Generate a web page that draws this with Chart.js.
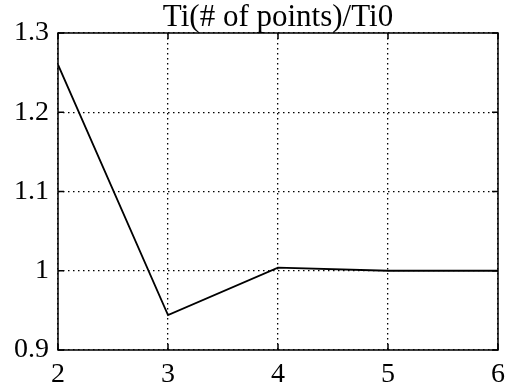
<!DOCTYPE html>
<html>
<head>
<meta charset="utf-8">
<script src="https://cdn.jsdelivr.net/npm/chart.js@4"></script>
<style>
  html, body { margin: 0; padding: 0; background: #fff; }
  #wrap { width: 513px; height: 391px; }
</style>
</head>
<body>
<div id="wrap"><canvas id="chart" width="513" height="391"></canvas></div>
<script>
// number of points vs Ti ratio
const points = [2, 3, 4, 5, 6];
const tiRatio = [1.26, 0.944, 1.004, 1.0, 1.0];
const xTicks = [2, 3, 4, 5, 6];
const yTicks = [0.9, 1.0, 1.1, 1.2, 1.3];

const serif = "'Liberation Serif', 'DejaVu Serif', serif";

// frame around plot area + short inward tick marks
const boxPlugin = {
    id: 'box',
    afterDraw(chart) {
        const { ctx, chartArea: a, scales } = chart;
        ctx.save();
        ctx.strokeStyle = '#000';
        ctx.lineWidth = 1.5;
        ctx.strokeRect(a.left, a.top, a.right - a.left, a.bottom - a.top);
        const len = 6;
        ctx.beginPath();
        xTicks.forEach(v => {
            const px = scales.x.getPixelForValue(v);
            ctx.moveTo(px, a.bottom); ctx.lineTo(px, a.bottom - len);
            ctx.moveTo(px, a.top); ctx.lineTo(px, a.top + len);
        });
        yTicks.forEach(v => {
            const py = scales.y.getPixelForValue(v);
            ctx.moveTo(a.left, py); ctx.lineTo(a.left + len, py);
            ctx.moveTo(a.right, py); ctx.lineTo(a.right - len, py);
        });
        ctx.stroke();
        ctx.restore();
    }
};

new Chart(document.getElementById('chart'), {
    type: 'line',
    data: {
        datasets: [{
            data: points.map((p, i) => ({ x: p, y: tiRatio[i] })),
            borderColor: '#000',
            borderWidth: 1.8,
            pointRadius: 0,
            tension: 0,
            fill: false
        }]
    },
    options: {
        responsive: false,
        animation: false,
        layout: { padding: { left: 0, right: 14, top: 0, bottom: 0 } },
        plugins: {
            legend: { display: false },
            tooltip: { enabled: false },
            title: {
                display: true,
                text: 'Ti(# of points)/Ti0',
                color: '#000',
                fullSize: false,
                font: { family: serif, size: 31, weight: 'normal', lineHeight: 1 },
                padding: { top: 2, bottom: 0 }
            }
        },
        scales: {
            x: {
                type: 'linear',
                min: 2, max: 6,
                afterBuildTicks: s => { s.ticks = xTicks.map(v => ({ value: v })); },
                afterFit: s => { s.height = 41; },
                grid: { color: '#000', lineWidth: 1.3, drawTicks: false },
                border: { display: false, dash: [1.5, 3.5] },
                ticks: {
                    color: '#000', padding: 8,
                    font: { family: serif, size: 28 },
                    maxRotation: 0
                }
            },
            y: {
                min: 0.9, max: 1.3,
                afterBuildTicks: s => { s.ticks = yTicks.map(v => ({ value: v })); },
                afterFit: s => { s.width = 58; },
                grid: { color: '#000', lineWidth: 1.3, drawTicks: false },
                border: { display: false, dash: [1.5, 3.5] },
                ticks: {
                    color: '#000', padding: 9,
                    font: { family: serif, size: 28 },
                    callback: v => (Math.round(v * 10) / 10).toString()
                }
            }
        }
    },
    plugins: [boxPlugin]
});
</script>
</body>
</html>
